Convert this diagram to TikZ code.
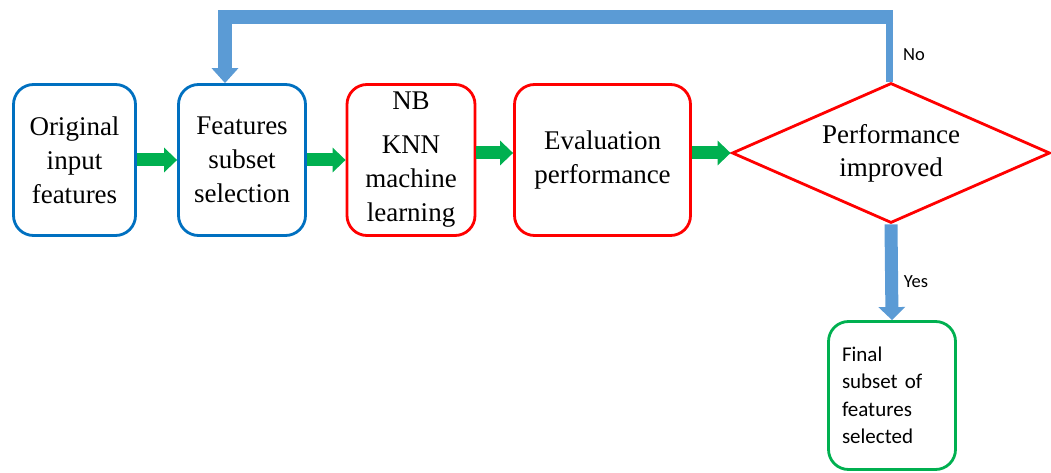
\documentclass[tikz,border=0pt]{standalone}
\usepackage{fontspec}
\setmainfont{Liberation Serif}
\newfontfamily\labelfont{Carlito}
\usetikzlibrary{shapes.geometric,arrows.meta,calc}
\definecolor{boxblue}{HTML}{0070C0}
\definecolor{boxred}{HTML}{FF0000}
\definecolor{boxgreen}{HTML}{00B050}
\definecolor{flowgreen}{HTML}{00B050}
\definecolor{flowblue}{HTML}{5B9BD5}
\begin{document}
\begin{tikzpicture}[x=1pt,y=-1pt,
  stepbox/.style={rectangle, rounded corners=20pt, line width=2.8pt, fill=white,
    align=center, inner sep=0pt, minimum height=151pt,
    font=\fontsize{27}{34}\selectfont},
  greenflow/.style={draw=flowgreen, line width=13pt,
    -{Triangle[length=13pt,width=24pt]}, flowgreen},
  blueflow/.style={draw=flowblue, line width=13pt, flowblue},
  flowlabel/.style={font=\labelfont\fontsize{18.5}{22}\selectfont, inner sep=0pt}]
\useasboundingbox (0,0) rectangle (1051,473);

% processing steps
\node[stepbox, draw=boxblue, minimum width=122pt] (orig) at (74.5,160)
  {Original\\input\\features};
\node[stepbox, draw=boxblue, minimum width=127pt] (sel) at (242,160)
  {Features\\subset\\selection};
\node[stepbox, draw=boxred, minimum width=128pt] (ml) at (411,160)
  {NB\\[10pt]KNN\\machine\\learning};
\node[stepbox, draw=boxred, minimum width=176pt] (eval) at (602.5,160)
  {Evaluation\\performance};

% decision
\node[diamond, draw=boxred, line width=2.8pt, fill=white, inner sep=0pt,
  aspect=2.27, minimum width=318pt, minimum height=140pt, align=center,
  font=\fontsize{27}{33}\selectfont] (dec) at (891,153)
  {\raisebox{-3pt}{Performance}\\\raisebox{-3pt}{improved}};

% result
\node[stepbox, draw=boxgreen, minimum width=127pt, minimum height=148pt,
  text width=100pt, align=left, font=\labelfont\fontsize{21}{27.5}\selectfont]
  (final) at (892,395.5) {Final\\subset of\\features\\selected};

% forward flow
\draw[greenflow] (orig.east) -- (sel.west);
\draw[greenflow] (sel.east) -- (ml.west);
\draw[greenflow] ($(ml.east)+(0,-7)$) -- ($(eval.west)+(0,-7)$);
\draw[greenflow] ($(eval.east)+(0,-7)$) -- (dec.west);

% feedback loop when performance did not improve
\coordinate (loopR) at (893,17);
\coordinate (loopL) at (225,17);
\draw[draw=flowblue, line width=7pt] ($(dec.north)+(-1.5,0)$) -- ($(dec.north)+(-1.5,-62)$);
\draw[blueflow, line width=14pt, line join=miter, -{Triangle[length=15pt,width=26pt]}]
  (loopR) -- (loopL) -- (loopL |- sel.north);
\node[flowlabel] (no) at (914,55) {No};

% exit when performance improved
\draw[blueflow, -{Triangle[length=13pt,width=26pt]}] (dec.south) -- (final.north);
\node[flowlabel] (yes) at (916,282) {Yes};
\end{tikzpicture}
\end{document}
